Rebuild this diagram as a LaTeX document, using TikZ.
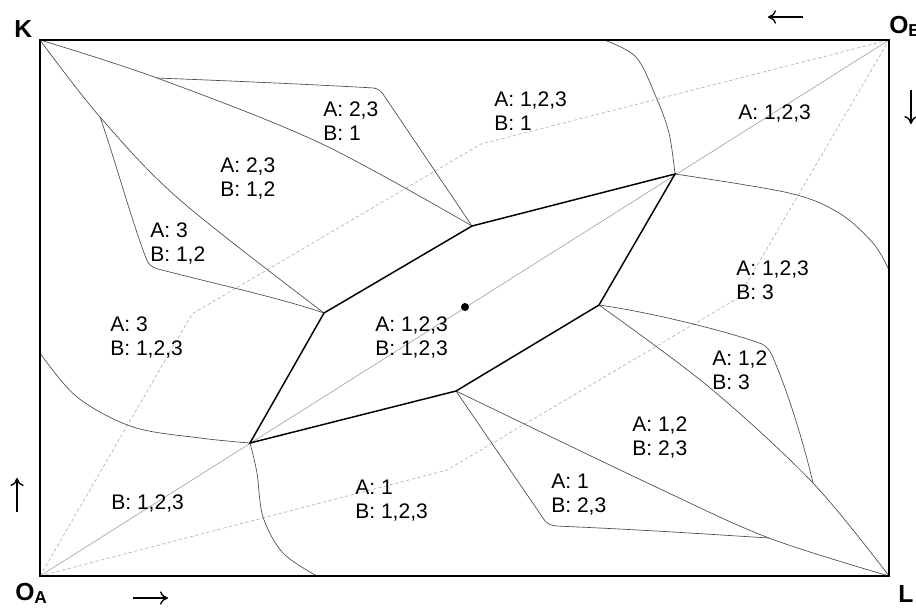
\documentclass[tikz,border=0pt]{standalone}
\usepackage{fontspec}
\setmainfont{Liberation Sans}
\usetikzlibrary{arrows.meta}

\tikzset{
  frame/.style={line width=0.8pt, black},
  hexline/.style={line width=1.1pt, black},
  bound/.style={line width=0.5pt, black!70},
  diag/.style={line width=0.5pt, black!35},
  offerpath/.style={line width=0.5pt, black!30, dash pattern=on 2.5pt off 1.8pt},
  lab/.style={anchor=west, inner sep=0pt, align=left, font=\fontsize{15.8}{18}\selectfont},
  cornerlab/.style={anchor=base west, inner sep=0pt, font=\bfseries\fontsize{18.5}{20}\selectfont},
  dirarrow/.style={line width=1pt, -{To[length=6pt,width=10pt]}},
  smoothc/.style={smooth, tension=0.55}
}

\begin{document}
\begin{tikzpicture}[x=0.75pt, y=-0.75pt]
\useasboundingbox (0,0) rectangle (916,608);

% box corners
\coordinate (K)  at (40,40);
\coordinate (OA) at (40,576);
\coordinate (OB) at (889,40);
\coordinate (L)  at (889,576);

% hexagon of the core
\coordinate (P1) at (250,443);
\coordinate (P2) at (324,313);
\coordinate (P3) at (472,226);
\coordinate (P4) at (675,174);
\coordinate (P5) at (599,305);
\coordinate (P6) at (456,391);
\coordinate (C)  at (465,307);

% junctions and edge points of the boundaries
\coordinate (J1) at (157,78);
\coordinate (J2) at (100,117);
\coordinate (J3) at (769,538);
\coordinate (J4) at (813,483);
\coordinate (TopE) at (604,40);
\coordinate (RightE) at (889,270);
\coordinate (BotE) at (317,576);
\coordinate (LeftE) at (40,353);

% kinks of the dashed offer paths
\coordinate (Q1) at (192,314);
\coordinate (Q2) at (481,144);
\coordinate (Q3) at (447,470);
\coordinate (Q4) at (738,298);

% offer paths
\draw[offerpath] (OA) -- (Q1) -- (Q2) -- (OB);
\draw[offerpath] (OA) -- (Q3) -- (Q4) -- (OB);

% contract diagonal
\draw[diag] (OA) -- (OB);

% region boundaries, upper left
\draw[bound] plot[smoothc] coordinates {(K) (J1) (320,143) (P3)};
\draw[bound] plot[smoothc] coordinates {(K) (J2) (180,200) (P2)};
\draw[bound] (J1) .. controls (260,82) and (340,86) .. (374,88)
             .. controls (379,89) and (382,92) .. (385,97) -- (P3);
\draw[bound] (J2) .. controls (112,150) and (132,222) .. (146,258)
             .. controls (148,264) and (151,267) .. (158,269)
             .. controls (220,285) and (280,298) .. (P2);

% region boundaries, lower right
\draw[bound] plot[smoothc] coordinates {(L) (J3) (656,487) (P6)};
\draw[bound] plot[smoothc] coordinates {(L) (J4) (709,387) (P5)};
\draw[bound] (P6) -- (543,518) .. controls (546,523) and (549,525) .. (556,526)
             .. controls (650,530) and (720,535) .. (J3);
\draw[bound] (P5) .. controls (650,312) and (730,332) .. (762,344)
             .. controls (768,347) and (771,352) .. (774,360)
             .. controls (787,390) and (803,440) .. (J4);

% boundaries running to the box edges
\draw[bound] plot[smoothc] coordinates {(P4) (669,133) (656,97) (636,57) (TopE)};
\draw[bound] plot[smoothc] coordinates {(P4) (789,193) (839,213) (873,243) (RightE)};
\draw[bound] plot[smoothc] coordinates {(P1) (257,473) (263,517) (283,553) (BotE)};
\draw[bound] plot[smoothc] coordinates {(LeftE) (77,397) (133,427) (200,438) (P1)};

% core hexagon
\draw[hexline] (P1) -- (P2) -- (P3) -- (P4) -- (P5) -- (P6) -- cycle;
\fill (C) circle (3pt);

% frame
\draw[frame] (K) rectangle (L);

% corner labels
\node[cornerlab] (lK)  at (14,37)  {K};
\node[cornerlab] (lOA) at (15,600) {O\textsubscript{A}};
\node[cornerlab] (lOB) at (889,33) {O\textsubscript{B}};
\node[cornerlab] (lL)  at (898,602) {L};

% direction arrows
\coordinate (aT1) at (803,17);  \coordinate (aT2) at (768,17);
\coordinate (aB1) at (133,598); \coordinate (aB2) at (168,598);
\coordinate (aL1) at (17,512);  \coordinate (aL2) at (17,478);
\coordinate (aR1) at (911,90);  \coordinate (aR2) at (911,124);
\draw[dirarrow] (aT1) -- (aT2);
\draw[dirarrow] (aB1) -- (aB2);
\draw[dirarrow] (aL1) -- (aL2);
\draw[dirarrow] (aR1) -- (aR2);

% region labels
\node[lab] (r1)  at (323,123.7) {A: 2,3\strut\\B: 1\strut};
\node[lab] (r2)  at (220,179.2) {A: 2,3\strut\\B: 1,2\strut};
\node[lab] (r3)  at (150,244.2) {A: 3\strut\\B: 1,2\strut};
\node[lab] (r4)  at (494,113.7) {A: 1,2,3\strut\\B: 1\strut};
\node[lab] (r5)  at (738,114.7) {A: 1,2,3\strut};
\node[lab] (r6)  at (736,282.2) {A: 1,2,3\strut\\B: 3\strut};
\node[lab] (r7)  at (110,338.7) {A: 3\strut\\B: 1,2,3\strut};
\node[lab] (r8)  at (375,338.7) {A: 1,2,3\strut\\B: 1,2,3\strut};
\node[lab] (r9)  at (111,504.4) {B: 1,2,3\strut};
\node[lab] (r10) at (355,501.4) {A: 1\strut\\B: 1,2,3\strut};
\node[lab] (r11) at (712,372.7) {A: 1,2\strut\\B: 3\strut};
\node[lab] (r12) at (632,438.4) {A: 1,2\strut\\B: 2,3\strut};
\node[lab] (r13) at (551,496.0) {A: 1\strut\\B: 2,3\strut};
\end{tikzpicture}
\end{document}
